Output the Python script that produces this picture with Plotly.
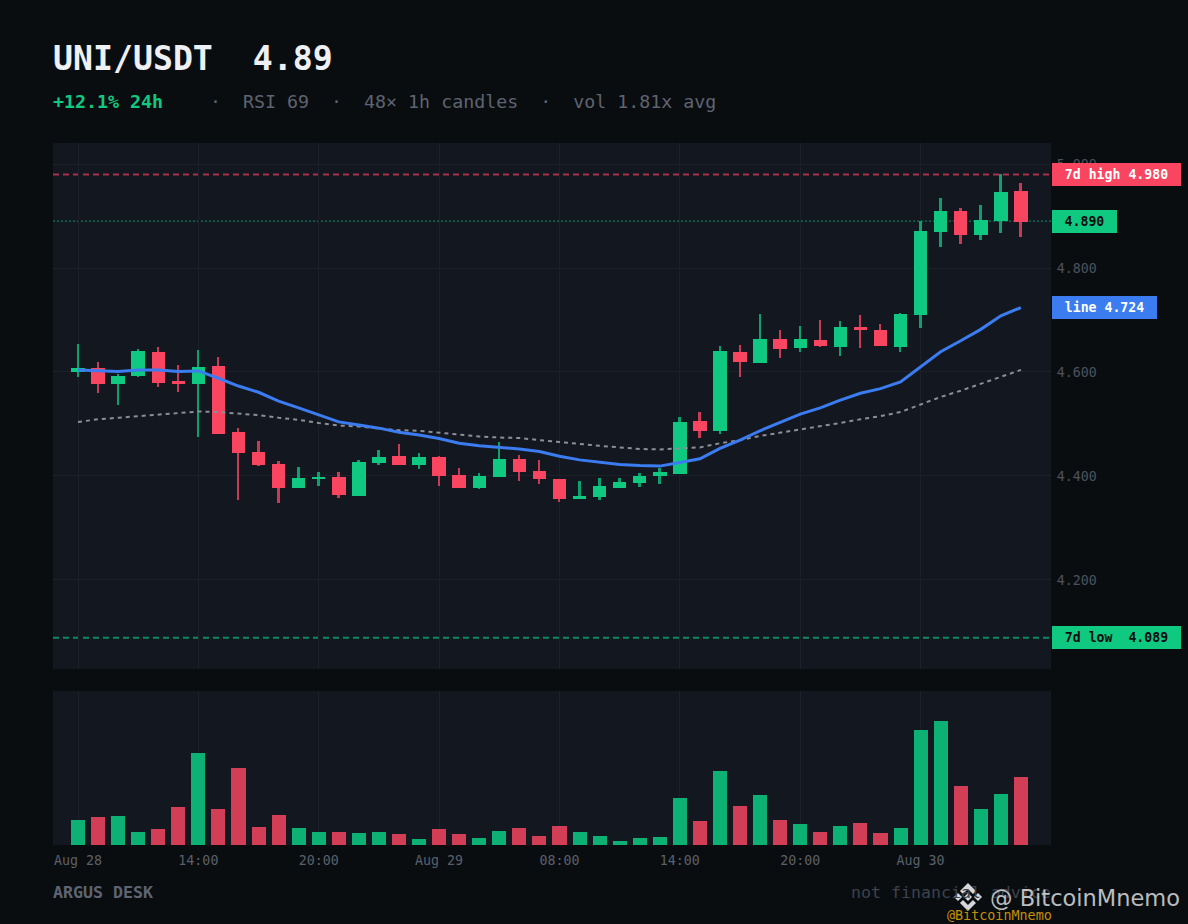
import plotly.graph_objects as go

# candles
opens = [4.600, 4.608, 4.576, 4.592, 4.638, 4.583, 4.577, 4.612, 4.485, 4.446, 4.423, 4.377,
         4.394, 4.398, 4.362, 4.425, 4.438, 4.421, 4.437, 4.402, 4.377, 4.398, 4.433, 4.410,
         4.394, 4.356, 4.360, 4.377, 4.387, 4.400, 4.404, 4.506, 4.487, 4.638, 4.617, 4.663,
         4.646, 4.662, 4.648, 4.687, 4.681, 4.648, 4.710, 4.869, 4.910, 4.863, 4.890, 4.948]
highs = [4.654, 4.619, 4.596, 4.644, 4.648, 4.613, 4.642, 4.629, 4.492, 4.467, 4.429, 4.417,
         4.408, 4.408, 4.431, 4.450, 4.462, 4.444, 4.438, 4.415, 4.406, 4.465, 4.440, 4.431,
         4.394, 4.390, 4.396, 4.396, 4.406, 4.415, 4.513, 4.523, 4.650, 4.652, 4.712, 4.681,
         4.688, 4.700, 4.698, 4.710, 4.692, 4.713, 4.890, 4.935, 4.915, 4.921, 4.981, 4.963]
lows = [4.591, 4.560, 4.537, 4.590, 4.571, 4.562, 4.475, 4.481, 4.354, 4.419, 4.348, 4.377,
        4.381, 4.358, 4.362, 4.421, 4.421, 4.413, 4.381, 4.377, 4.375, 4.398, 4.390, 4.385,
        4.350, 4.356, 4.354, 4.377, 4.379, 4.385, 4.404, 4.473, 4.481, 4.590, 4.617, 4.627,
        4.638, 4.648, 4.631, 4.646, 4.650, 4.638, 4.685, 4.840, 4.846, 4.854, 4.867, 4.860]
closes = [4.608, 4.576, 4.592, 4.640, 4.579, 4.577, 4.610, 4.481, 4.444, 4.421, 4.377, 4.396,
          4.398, 4.363, 4.427, 4.437, 4.421, 4.437, 4.400, 4.377, 4.400, 4.433, 4.408, 4.394,
          4.356, 4.362, 4.381, 4.388, 4.400, 4.408, 4.504, 4.487, 4.640, 4.619, 4.663, 4.644,
          4.663, 4.650, 4.687, 4.681, 4.650, 4.712, 4.871, 4.910, 4.863, 4.892, 4.946, 4.888]
line_fast = [4.604, 4.602, 4.601, 4.604, 4.604, 4.601, 4.602, 4.588, 4.573, 4.561, 4.544, 4.531,
             4.517, 4.504, 4.498, 4.492, 4.484, 4.479, 4.472, 4.463, 4.458, 4.455, 4.452, 4.447,
             4.438, 4.431, 4.426, 4.422, 4.420, 4.419, 4.426, 4.433, 4.453, 4.469, 4.487, 4.503,
             4.519, 4.531, 4.546, 4.559, 4.568, 4.581, 4.610, 4.639, 4.660, 4.682, 4.708, 4.724]
line_slow = [4.504, 4.509, 4.512, 4.515, 4.519, 4.521, 4.524, 4.523, 4.520, 4.517, 4.512, 4.508,
             4.502, 4.497, 4.495, 4.492, 4.488, 4.487, 4.483, 4.479, 4.476, 4.474, 4.473, 4.469,
             4.465, 4.461, 4.458, 4.455, 4.452, 4.451, 4.453, 4.455, 4.463, 4.469, 4.477, 4.483,
             4.490, 4.496, 4.502, 4.509, 4.515, 4.523, 4.538, 4.552, 4.564, 4.577, 4.591, 4.604]
volumes = [25, 28, 29, 13, 16, 38, 92, 36, 77, 18, 30, 17, 13, 13, 12, 13, 11, 6, 16, 11, 7, 14, 17, 9,
           19, 13, 9, 4, 7, 8, 47, 24, 74, 39, 50, 25, 21, 13, 19, 22, 12, 17, 115, 124, 59, 36, 51, 68]
vol_up = [1, 0, 1, 1, 0, 0, 1, 0, 0, 0, 0, 1, 1, 0, 1, 1, 0, 1, 0, 0, 1, 1, 0, 0,
          0, 1, 1, 1, 1, 1, 1, 0, 1, 0, 1, 0, 1, 0, 1, 0, 0, 1, 1, 1, 0, 1, 1, 0]
tick_pos = [0, 6, 12, 18, 24, 30, 36, 42]
tick_labels = ["Aug 28", "14:00", "20:00", "Aug 29", "08:00", "14:00", "20:00", "Aug 30"]
price_ticks = [5.0, 4.8, 4.6, 4.4, 4.2]
high_7d = 4.980
low_7d = 4.089
last = 4.890

MONO = "DejaVu Sans Mono"
GREEN = "#10c981"
RED = "#fa4560"
WICK_GREEN = "#0d9f6e"
WICK_RED = "#c93b52"
VOL_GREEN = "#0eb174"
VOL_RED = "#d23e56"
BG = "#0a0d10"
PANEL = "#131720"
GRID = "#1b202a"
W, H = 1188, 924


def logo_shape(cx, cy, pts):
    # small piece of the watermark logo, offsets in pixels from its centre
    coords = [((cx + dx) / W, 1 - (cy + dy) / H) for dx, dy in pts]
    path = "M " + " L ".join("%.5f %.5f" % c for c in coords) + " Z"
    return dict(type="path", xref="paper", yref="paper", path=path, layer="above",
                fillcolor="#d4d6d9", line_width=0)


xs = list(range(len(opens)))
up = [c >= o for o, c in zip(opens, closes)]


def main():
    fig = go.Figure()
    # wicks first so that the bodies cover them
    fig.add_trace(go.Bar(
        x=xs, y=[h - l for h, l in zip(highs, lows)], base=lows, width=0.095,
        marker=dict(color=[WICK_GREEN if u else WICK_RED for u in up], line_width=0),
        xaxis="x", yaxis="y", showlegend=False))
    fig.add_trace(go.Bar(
        x=xs, y=[abs(o - c) for o, c in zip(opens, closes)],
        base=[min(o, c) for o, c in zip(opens, closes)], width=0.67,
        marker=dict(color=[GREEN if u else RED for u in up], line_width=0),
        xaxis="x", yaxis="y", showlegend=False))
    fig.add_trace(go.Scatter(
        x=xs, y=line_slow, mode="lines", line=dict(color="#8b8f98", width=2, dash="4px,4px"),
        xaxis="x", yaxis="y", showlegend=False))
    fig.add_trace(go.Scatter(
        x=xs, y=line_fast, mode="lines", line=dict(color="#3b7cf0", width=3),
        xaxis="x", yaxis="y", showlegend=False))
    fig.add_trace(go.Bar(
        x=xs, y=volumes, width=0.7,
        marker=dict(color=[VOL_GREEN if u else VOL_RED for u in vol_up], line_width=0),
        xaxis="x2", yaxis="y2", showlegend=False))

    levels = [(high_7d, "#a8324a", "6px,4px", 2), (last, "#0f7a58", "2px,2px", 1.2), (low_7d, "#0e8a60", "6px,4px", 2)]
    shapes = [dict(type="line", xref="paper", yref="y", x0=53 / W, x1=1051 / W, y0=v, y1=v,
                   layer="below", line=dict(color=c, width=lw, dash=d))
              for v, c, d, lw in levels]

    # watermark logo
    lx, ly = 968, 897
    shapes += [
        logo_shape(lx, ly, [(0, -4), (4, 0), (0, 4), (-4, 0)]),
        logo_shape(lx, ly, [(-10, -4), (-6, 0), (-10, 4), (-14, 0)]),
        logo_shape(lx, ly, [(10, -4), (14, 0), (10, 4), (6, 0)]),
        logo_shape(lx, ly, [(0, -14), (8, -6), (5, -3), (0, -8), (-5, -3), (-8, -6)]),
        logo_shape(lx, ly, [(0, 14), (-8, 6), (-5, 3), (0, 8), (5, 3), (8, 6)]),
    ]

    def tag(y, text, width, bg, color="#ffffff"):
        return dict(xref="paper", yref="y", x=1052 / W, y=y, xanchor="left", yanchor="middle",
                    text="<b>%s</b>" % text, showarrow=False, width=width, height=23, borderpad=0,
                    borderwidth=0, bgcolor=bg, font=dict(family=MONO, size=13.2, color=color), align="center")

    def label(px, py, text, size, color, anchor="left", family=MONO, opacity=1):
        return dict(xref="paper", yref="paper", x=px / W, y=1 - py / H, xanchor=anchor, yanchor="middle",
                    text=text, showarrow=False, borderpad=0, borderwidth=0, opacity=opacity,
                    font=dict(family=family, size=size, color=color))

    annotations = [
        tag(high_7d, "7d high 4.980", 129, RED),
        tag(last, "4.890", 65, GREEN, BG),
        tag(line_fast[-1], "line 4.724", 105, "#3b7cf0"),
        tag(low_7d, "7d low  4.089", 129, GREEN, BG),
        label(53, 58, "<b>UNI/USDT  4.89</b>", 33.2, "#eef0f4"),
        label(53, 102, "<b>+12.1% 24h</b>", 18.3, GREEN),
        label(209.5, 102, "·  RSI 69  ·  48× 1h candles  ·  vol 1.81x avg", 18.3, "#5e6470"),
        label(53, 892, "<b>ARGUS DESK</b>", 16.6, "#5e6470"),
        label(1051, 892, "not financial advice", 16.6, "#3d424d", "right"),
        label(1180, 898, "@ BitcoinMnemo", 22.5, "#d8dbde", "right", "DejaVu Sans", 0.85),
        label(1052, 915, "@BitcoinMnemo", 13.4, "#c48f0a", "right"),
    ]

    fig.update_layout(
        width=W, height=H, margin=dict(l=0, r=0, t=0, b=0),
        paper_bgcolor=BG, plot_bgcolor=PANEL, barmode="overlay", bargap=0,
        shapes=shapes, annotations=annotations,
        xaxis=dict(domain=[53 / W, 1051 / W], range=[-1.246, 48.5], anchor="y",
                   tickvals=tick_pos, showticklabels=False, showgrid=True, gridcolor=GRID, zeroline=False),
        xaxis2=dict(domain=[53 / W, 1051 / W], range=[-1.246, 48.5], anchor="y2", matches="x",
                    tickvals=tick_pos, ticktext=tick_labels, tickangle=0, showgrid=True, gridcolor=GRID,
                    zeroline=False, ticks="outside", ticklen=3, tickcolor="rgba(0,0,0,0)",
                    tickfont=dict(family=MONO, size=13.3, color="#5a606b")),
        yaxis=dict(domain=[255 / H, 781 / H], range=[4.0288, 5.0404], side="right", anchor="x",
                   tickvals=price_ticks, ticktext=["%.3f" % t for t in price_ticks], showgrid=True,
                   gridcolor=GRID, zeroline=False, ticks="outside", ticklen=2, tickcolor="rgba(0,0,0,0)",
                   tickfont=dict(family=MONO, size=13.3, color="#4c525d")),
        yaxis2=dict(domain=[79 / H, 233 / H], range=[0, 154], anchor="x2",
                    showgrid=False, zeroline=False, showticklabels=False),
    )
    # the page's default body margin would push the figure off by 8px
    fig.write_html("out.html", config={"displayModeBar": False},
                   post_script="document.body.style.margin='0';document.body.style.background='%s';" % BG)


if __name__ == "__main__":
    main()
